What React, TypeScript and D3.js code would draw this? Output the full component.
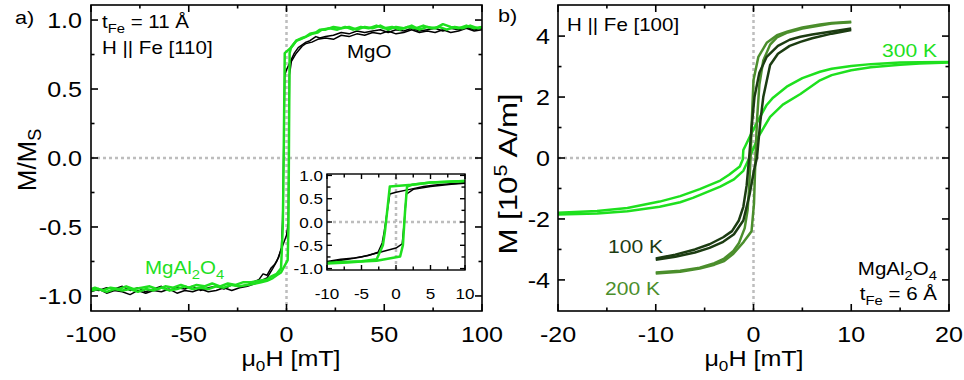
import React from "react";
import * as d3 from "d3";

// ---------- Panel a) data : [mu0H (mT), M/Ms] ----------
const mgoDesc: [number, number][] = [
  [100, 0.94], [96, 0.93], [92, 0.95], [88, 0.93], [84, 0.94], [80, 0.92], [76, 0.94], [72, 0.93],
  [68, 0.92], [64, 0.94], [60, 0.92], [56, 0.93], [52, 0.91], [48, 0.93], [44, 0.92], [40, 0.91],
  [36, 0.92], [32, 0.9], [28, 0.91], [24, 0.89], [20, 0.88], [17, 0.87], [15, 0.88], [12, 0.85],
  [10, 0.84], [8, 0.82], [6, 0.8], [4, 0.76], [2, 0.7], [0, 0.64], [-0.9, 0.6], [-1.3, 0.2],
  [-1.7, -0.2], [-2.0, -0.45], [-2.6, -0.65], [-4, -0.72], [-6, -0.77], [-8, -0.8], [-10, -0.85],
  [-12, -0.84], [-14, -0.88], [-17, -0.9], [-20, -0.92], [-24, -0.93], [-28, -0.92], [-32, -0.95],
  [-36, -0.93], [-40, -0.94], [-44, -0.96], [-48, -0.93], [-52, -0.95], [-56, -0.94], [-60, -0.96],
  [-64, -0.93], [-68, -0.95], [-72, -0.97], [-76, -0.94], [-80, -0.96], [-84, -0.93], [-88, -0.95],
  [-92, -0.94], [-96, -0.96], [-100, -0.95],
];
const mgoAsc: [number, number][] = [
  [-100, -0.97], [-96, -0.95], [-92, -0.98], [-88, -0.96], [-84, -0.97], [-80, -0.99], [-76, -0.96],
  [-72, -0.98], [-68, -0.96], [-64, -0.97], [-60, -0.95], [-56, -0.98], [-52, -0.96], [-48, -0.97],
  [-44, -0.95], [-40, -0.97], [-36, -0.96], [-32, -0.94], [-28, -0.96], [-24, -0.94], [-20, -0.93],
  [-16, -0.91], [-13, -0.89], [-10, -0.87], [-7, -0.8], [-5, -0.75], [-2.6, -0.66], [0, -0.56],
  [0.9, -0.47], [1.2, 0.0], [1.5, 0.6], [2.5, 0.7], [5, 0.76], [8, 0.81], [10, 0.83], [13, 0.84],
  [16, 0.86], [20, 0.87], [24, 0.86], [28, 0.89], [32, 0.88], [36, 0.9], [40, 0.89], [44, 0.91],
  [48, 0.9], [52, 0.92], [56, 0.9], [60, 0.91], [64, 0.93], [68, 0.91], [72, 0.92], [76, 0.91],
  [80, 0.93], [84, 0.91], [88, 0.92], [92, 0.94], [96, 0.92], [100, 0.93],
];
const mgaDesc: [number, number][] = [
  [100, 0.95], [96, 0.94], [92, 0.96], [88, 0.94], [84, 0.95], [80, 0.97], [76, 0.94], [72, 0.95],
  [68, 0.93], [64, 0.96], [60, 0.94], [56, 0.95], [52, 0.93], [48, 0.96], [44, 0.94], [40, 0.95],
  [36, 0.93], [32, 0.95], [28, 0.94], [24, 0.95], [20, 0.93], [17, 0.93], [15, 0.91], [12, 0.9],
  [10, 0.88], [7, 0.86], [5, 0.85], [2.3, 0.8], [-0.9, 0.76], [-1.3, 0.2], [-1.6, -0.2],
  [-1.9, -0.5], [-2.8, -0.8], [-5, -0.84], [-8, -0.86], [-10, -0.88], [-14, -0.89], [-18, -0.9],
  [-22, -0.9], [-26, -0.92], [-30, -0.91], [-34, -0.93], [-38, -0.91], [-42, -0.93], [-46, -0.92],
  [-50, -0.94], [-54, -0.92], [-58, -0.94], [-62, -0.93], [-66, -0.95], [-70, -0.93], [-74, -0.94],
  [-78, -0.95], [-82, -0.93], [-86, -0.95], [-90, -0.94], [-94, -0.96], [-98, -0.94], [-100, -0.95],
];
const mgaAsc: [number, number][] = [
  [-100, -0.96], [-96, -0.95], [-92, -0.97], [-88, -0.95], [-84, -0.96], [-80, -0.95], [-76, -0.97],
  [-72, -0.95], [-68, -0.96], [-64, -0.94], [-60, -0.96], [-56, -0.95], [-52, -0.93], [-48, -0.95],
  [-44, -0.94], [-40, -0.95], [-36, -0.93], [-32, -0.94], [-28, -0.92], [-24, -0.93], [-20, -0.92],
  [-16, -0.91], [-13, -0.9], [-10, -0.89], [-7, -0.87], [-5, -0.85], [-2.8, -0.83], [0.6, -0.74],
  [1.0, -0.5], [1.3, 0.2], [1.6, 0.76], [2.3, 0.8], [5, 0.85], [8, 0.87], [10, 0.88], [13, 0.9],
  [16, 0.91], [18, 0.93], [22, 0.94], [26, 0.93], [30, 0.95], [34, 0.93], [38, 0.95], [42, 0.94],
  [46, 0.96], [50, 0.94], [54, 0.95], [58, 0.93], [62, 0.95], [66, 0.94], [70, 0.96], [74, 0.94],
  [78, 0.95], [82, 0.93], [86, 0.95], [90, 0.94], [94, 0.96], [98, 0.94], [100, 0.95],
];

// ---------- Panel b) data : [mu0H (mT), M (10^5 A/m)] ----------
const k100Desc: [number, number][] = [
  [10, 4.25], [8, 4.15], [6, 4.05], [4.8, 3.98], [3.7, 3.88], [2.5, 3.68], [1.35, 3.32], [0.6, 2.8],
  [0.1, 2.0], [-0.2, 1.0], [-0.45, 0], [-0.7, -0.9], [-1.04, -1.6], [-1.5, -2.05], [-2.2, -2.4],
  [-3.1, -2.6], [-4.5, -2.83], [-6, -3.0], [-8, -3.17], [-10, -3.3],
];
const k100Asc: [number, number][] = [
  [-10, -3.34], [-8, -3.24], [-6, -3.1], [-4.5, -2.95], [-3.1, -2.75], [-2, -2.5], [-1.04, -2.05],
  [-0.4, -1.2], [0.05, -0.4], [0.35, 0], [0.7, 1.2], [1.0, 2.0], [1.7, 3.05], [2.5, 3.42],
  [3.7, 3.68], [4.8, 3.81], [6, 3.93], [8, 4.08], [10, 4.2],
];
const k200Desc: [number, number][] = [
  [10, 4.47], [8, 4.43], [6.8, 4.38], [5, 4.28], [3.5, 4.15], [2.4, 4.03], [1.35, 3.78], [0.5, 3.32],
  [0, 2.56], [-0.2, 1.0], [-0.3, 0], [-0.45, -1.0], [-0.6, -1.7], [-0.9, -2.3], [-1.5, -2.8],
  [-2.06, -3.05], [-3, -3.3], [-4, -3.45], [-5.5, -3.6], [-7.5, -3.7], [-10, -3.76],
];
const k200Asc: [number, number][] = [
  [-10, -3.79], [-7.5, -3.73], [-5.5, -3.63], [-4, -3.5], [-3, -3.38], [-2.06, -3.14], [-1.0, -2.75],
  [-0.2, -2.4], [0.05, -1.5], [0.2, 0], [0.35, 1.2], [0.6, 2.4], [1.0, 3.2], [1.7, 3.72],
  [2.4, 3.96], [3.5, 4.12], [5, 4.25], [6.8, 4.35], [8, 4.41], [10, 4.45],
];
const k300Desc: [number, number][] = [
  [20, 3.15], [17, 3.14], [15, 3.13], [12, 3.08], [10, 3.02], [8, 2.93], [6.8, 2.83], [5, 2.62],
  [3.4, 2.34], [2, 1.98], [1.35, 1.74], [0.5, 1.25], [-0.3, 0.75], [-0.8, 0.42], [-1.04, 0.26],
  [-1.1, -0.05], [-1.4, -0.28], [-2.5, -0.55], [-3.4, -0.74], [-5.5, -1.02], [-7.5, -1.25],
  [-9.6, -1.43], [-12.9, -1.64], [-16, -1.74], [-20, -1.8],
];
const k300Asc: [number, number][] = [
  [-20, -1.85], [-16, -1.82], [-12.9, -1.75], [-9.6, -1.6], [-7.5, -1.45], [-6.2, -1.31],
  [-3.4, -0.94], [-2, -0.7], [-1.04, -0.42], [-0.36, 0.05], [0.5, 0.7], [1.7, 1.35], [3, 1.75],
  [4.8, 2.1], [6.8, 2.55], [8, 2.72], [10, 2.88], [12, 2.98], [15, 3.06], [17, 3.1], [20, 3.13],
];

// ---------- ticks ----------
const aXMajor = [-100, -50, 0, 50, 100];
const aXMinor = [-75, -25, 25, 75];
const aYMajor = [-1, -0.5, 0, 0.5, 1];
const aYMinor = [-0.75, -0.25, 0.25, 0.75];
const inXMajor = [-10, -5, 0, 5, 10];
const inXMinor = [-7.5, -2.5, 2.5, 7.5];
const inYMajor = [-1, -0.5, 0, 0.5, 1];
const inYMinor = [-0.75, -0.25, 0.25, 0.75];
const bXMajor = [-20, -10, 0, 10, 20];
const bXMinor = [-15, -5, 5, 15];
const bYMajor = [-4, -2, 0, 2, 4];
const bYMinor = [-3, -1, 1, 3];

const FONT = "'Liberation Sans', Arial, Helvetica, sans-serif";
const GREEN = "#1ee01e";
const DARK = "#1c3c12";
const MID = "#4b8e2c";
const SX = 1.14; // horizontal glyph stretch seen in the reference

type Sc = d3.ScaleLinear<number, number>;

function T({ x, y, size, anchor = "start", fill = "#000", children }: {
  x: number; y: number; size: number; anchor?: string; fill?: string; children: React.ReactNode;
}) {
  return (
    <text transform={`translate(${x},${y}) scale(${SX},1)`} fontSize={size} textAnchor={anchor} fill={fill}>
      {children}
    </text>
  );
}

function Frame({ x, y, xMaj, xMin, yMaj, yMin, maj, min, sw }: {
  x: Sc; y: Sc; xMaj: number[]; xMin: number[]; yMaj: number[]; yMin: number[];
  maj: number; min: number; sw: number;
}) {
  const [x0, x1] = x.range();
  const [y0, y1] = y.range();
  const segs: JSX.Element[] = [];
  const add = (k: string, a: number, b: number, c: number, d: number) =>
    segs.push(<line key={k} x1={a} y1={b} x2={c} y2={d} />);
  xMaj.forEach((t, i) => { add("xb" + i, x(t), y0, x(t), y0 - maj); add("xt" + i, x(t), y1, x(t), y1 + maj); });
  xMin.forEach((t, i) => { add("xbm" + i, x(t), y0, x(t), y0 - min); add("xtm" + i, x(t), y1, x(t), y1 + min); });
  yMaj.forEach((t, i) => { add("yl" + i, x0, y(t), x0 + maj, y(t)); add("yr" + i, x1, y(t), x1 - maj, y(t)); });
  yMin.forEach((t, i) => { add("ylm" + i, x0, y(t), x0 + min, y(t)); add("yrm" + i, x1, y(t), x1 - min, y(t)); });
  return (
    <g stroke="#000" strokeWidth={sw} fill="none">
      {segs}
      <rect x={x0} y={y1} width={x1 - x0} height={y0 - y1} />
    </g>
  );
}

function ZeroLines({ x, y }: { x: Sc; y: Sc }) {
  const [x0, x1] = x.range();
  const [y0, y1] = y.range();
  return (
    <g stroke="#bdbdbd" strokeWidth={2.5} strokeDasharray="3,3">
      <line x1={x(0)} x2={x(0)} y1={y0} y2={y1} />
      <line x1={x0} x2={x1} y1={y(0)} y2={y(0)} />
    </g>
  );
}

export default function App() {
  const ax = d3.scaleLinear().domain([-100, 100]).range([91, 482]);
  const ay = d3.scaleLinear().domain([-1.109, 1.109]).range([311, 5]);
  const ix = d3.scaleLinear().domain([-10, 10]).range([327, 465]);
  const iy = d3.scaleLinear().domain([-1.03, 1.03]).range([270, 174]);
  const bx = d3.scaleLinear().domain([-20, 20]).range([558, 949]);
  const by = d3.scaleLinear().domain([-5.02, 5.02]).range([311, 5]);

  const la = d3.line<[number, number]>().x((d) => ax(d[0])).y((d) => ay(d[1]));
  const li = d3.line<[number, number]>().x((d) => ix(d[0])).y((d) => iy(d[1]));
  const lb = d3.line<[number, number]>().x((d) => bx(d[0])).y((d) => by(d[1]));
  const clipIn = (arr: [number, number][]) => arr.filter((d) => d[0] >= -10 && d[0] <= 10);

  const fmt1 = (v: number) => (v === 0 ? "0.0" : d3.format(".1f")(v).replace("−", "-"));

  return (
    <svg width={964} height={380} style={{ position: "absolute", left: 0, top: 0 }} fontFamily={FONT}>
      <defs>
        <clipPath id="clipA"><rect x={91} y={5} width={391} height={306} /></clipPath>
        <clipPath id="clipB"><rect x={558} y={5} width={391} height={306} /></clipPath>
        <clipPath id="clipI"><rect x={327} y={174} width={138} height={96} /></clipPath>
      </defs>

      {/* ---------------- Panel a ---------------- */}
      <ZeroLines x={ax} y={ay} />
      <g clipPath="url(#clipA)" fill="none" strokeLinejoin="round">
        <path d={la(mgoDesc)!} stroke="#000" strokeWidth={1.5} />
        <path d={la(mgoAsc)!} stroke="#000" strokeWidth={1.5} />
        <path d={la(mgaDesc)!} stroke={GREEN} strokeWidth={2.5} />
        <path d={la(mgaAsc)!} stroke={GREEN} strokeWidth={2.5} />
      </g>
      <Frame x={ax} y={ay} xMaj={aXMajor} xMin={aXMinor} yMaj={aYMajor} yMin={aYMinor} maj={7} min={3.5} sw={1.6} />
      {aXMajor.map((t) => (
        <T key={"ax" + t} x={ax(t)} y={342} size={22} anchor="middle">{String(t)}</T>
      ))}
      {aYMajor.map((t) => (
        <T key={"ay" + t} x={82} y={ay(t) + 8} size={22} anchor="end">{fmt1(t)}</T>
      ))}
      <T x={291} y={366} size={22} anchor="middle">
        μ<tspan fontSize={15} dy={5}>0</tspan><tspan dy={-5}>H [mT]</tspan>
      </T>
      <text transform="translate(36,160) rotate(-90)" fontSize={26} textAnchor="middle">
        M/M<tspan fontSize={18} dy={5}>S</tspan>
      </text>
      <T x={15} y={24} size={19}>a)</T>
      <T x={102} y={28} size={18}>
        t<tspan fontSize={13} dy={5}>Fe</tspan><tspan dy={-5}> = 11 Å</tspan>
      </T>
      <T x={102} y={54} size={18}>H || Fe [110]</T>
      <T x={347} y={58} size={18}>MgO</T>
      <T x={145} y={274} size={18} fill={GREEN}>
        MgAl<tspan fontSize={13} dy={5}>2</tspan><tspan dy={-5}>O</tspan><tspan fontSize={13} dy={5}>4</tspan>
      </T>

      {/* Inset */}
      <rect x={327} y={174} width={138} height={96} fill="#fff" />
      <ZeroLines x={ix} y={iy} />
      <g clipPath="url(#clipI)" fill="none" strokeLinejoin="round">
        <path d={li(clipIn(mgoDesc))!} stroke="#000" strokeWidth={1.5} />
        <path d={li(clipIn(mgoAsc))!} stroke="#000" strokeWidth={1.5} />
        <path d={li(clipIn(mgaDesc))!} stroke={GREEN} strokeWidth={2.5} />
        <path d={li(clipIn(mgaAsc))!} stroke={GREEN} strokeWidth={2.5} />
      </g>
      <Frame x={ix} y={iy} xMaj={inXMajor} xMin={inXMinor} yMaj={inYMajor} yMin={inYMinor} maj={5} min={3.5} sw={1.4} />
      {inXMajor.map((t) => (
        <T key={"ix" + t} x={ix(t)} y={299} size={15} anchor="middle">{String(t)}</T>
      ))}
      {inYMajor.map((t) => (
        <T key={"iy" + t} x={323} y={iy(t) + 5.5} size={15} anchor="end">{fmt1(t)}</T>
      ))}

      {/* ---------------- Panel b ---------------- */}
      <ZeroLines x={bx} y={by} />
      <g clipPath="url(#clipB)" fill="none" strokeLinejoin="round" strokeWidth={2.5}>
        <path d={lb(k300Desc)!} stroke={GREEN} />
        <path d={lb(k300Asc)!} stroke={GREEN} />
        <path d={lb(k200Desc)!} stroke={MID} />
        <path d={lb(k200Asc)!} stroke={MID} />
        <path d={lb(k100Desc)!} stroke={DARK} />
        <path d={lb(k100Asc)!} stroke={DARK} />
      </g>
      <Frame x={bx} y={by} xMaj={bXMajor} xMin={bXMinor} yMaj={bYMajor} yMin={bYMinor} maj={7} min={3.5} sw={1.6} />
      {bXMajor.map((t) => (
        <T key={"bx" + t} x={bx(t)} y={342} size={22} anchor="middle">{String(t)}</T>
      ))}
      {bYMajor.map((t) => (
        <T key={"by" + t} x={550} y={by(t) + 8} size={22} anchor="end">{String(t)}</T>
      ))}
      <T x={754} y={366} size={22} anchor="middle">
        μ<tspan fontSize={15} dy={5}>0</tspan><tspan dy={-5}>H [mT]</tspan>
      </T>
      <text transform="translate(517,174) rotate(-90) scale(1.2,1)" fontSize={26} textAnchor="middle">
        M [10<tspan fontSize={18} dy={-10}>5</tspan><tspan dy={10}> A/m]</tspan>
      </text>
      <T x={498} y={22} size={19}>b)</T>
      <T x={567} y={31} size={18}>H || Fe [100]</T>
      <T x={882} y={57} size={18.5} fill={GREEN}>300 K</T>
      <T x={608} y={253} size={18.5} fill={DARK}>100 K</T>
      <T x={605} y={295} size={18.5} fill={MID}>200 K</T>
      <T x={937} y={275} size={18} anchor="end">
        MgAl<tspan fontSize={13} dy={5}>2</tspan><tspan dy={-5}>O</tspan><tspan fontSize={13} dy={5}>4</tspan>
      </T>
      <T x={937} y={300} size={18} anchor="end">
        t<tspan fontSize={13} dy={5}>Fe</tspan><tspan dy={-5}> = 6 Å</tspan>
      </T>
    </svg>
  );
}
